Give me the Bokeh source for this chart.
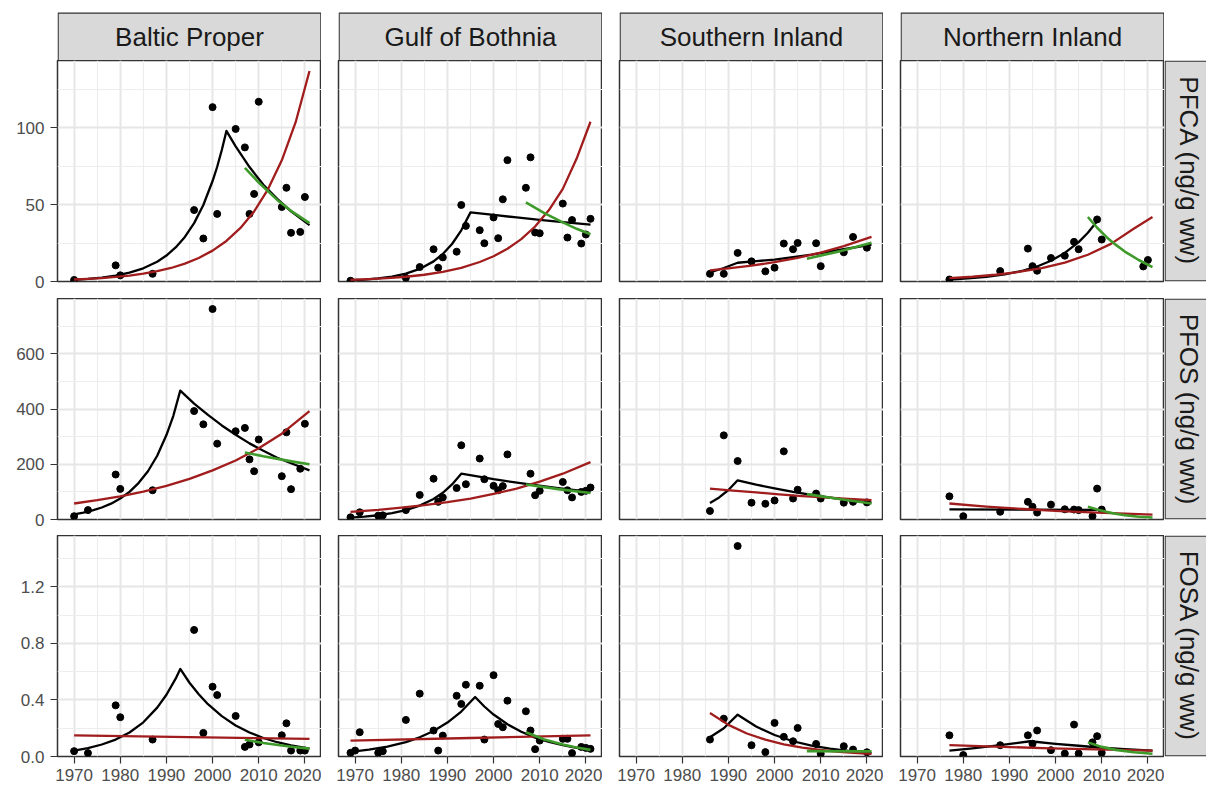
from math import pi
from bokeh.plotting import figure
from bokeh.layouts import gridplot
from bokeh.models import Range1d, FixedTicker, Grid, LinearAxis, PrintfTickFormatter
from bokeh.core.properties import value
from bokeh.embed import file_html
from bokeh.resources import INLINE

REGIONS = ["Baltic Proper", "Gulf of Bothnia", "Southern Inland", "Northern Inland"]
COMPOUNDS = ["PFCA (ng/g ww)", "PFOS (ng/g ww)", "FOSA (ng/g ww)"]
X_TICKS = [1970, 1980, 1990, 2000, 2010, 2020]
X_MINOR = [1975, 1985, 1995, 2005, 2015]
PFCA_TICKS = [0, 50, 100]
PFCA_MINOR = [25, 75, 125]
PFOS_TICKS = [0, 200, 400, 600]
PFOS_MINOR = [100, 300, 500, 700]
FOSA_TICKS = [0.0, 0.4, 0.8, 1.2]
FOSA_MINOR = [0.2, 0.6, 1.0, 1.4]

# ---------------- PFCA ----------------
bp_pfca_points = [(1970, 1.0), (1979, 10.5), (1980, 4.0), (1987, 5.0), (1996, 46.5), (1998, 28.0), (2000, 113.5),
                  (2001, 44.0), (2005, 99.3), (2007, 87.3), (2008, 44.0), (2009, 57.0), (2010, 117.0), (2015, 48.5),
                  (2016, 61.0), (2017, 31.7), (2019, 32.3), (2020, 55.0)]
bp_pfca_black = [(1970, 1.14), (1973, 1.7), (1976, 2.57), (1979, 3.83), (1982, 5.73), (1985, 8.6), (1988, 12.9),
                 (1990, 16.9), (1992, 22.2), (1994, 29.0), (1996, 38.0), (1998, 49.8), (2000, 65.4), (2001, 74.7),
                 (2002, 85.6), (2003, 98.0), (2005, 88.0), (2008, 74.5), (2011, 63.0), (2014, 53.8), (2017, 45.6),
                 (2021, 36.7)]
bp_pfca_red = [(1970, 1.3), (1973, 1.71), (1976, 2.25), (1979, 2.96), (1982, 3.89), (1985, 5.1), (1988, 6.7),
               (1991, 8.8), (1994, 11.6), (1997, 15.3), (2000, 20.1), (2003, 26.4), (2006, 34.7), (2009, 45.6),
               (2012, 60.0), (2015, 78.9), (2018, 103.7), (2021, 137.0)]
bp_pfca_green = [(2007, 74.0), (2010, 64.4), (2014, 53.1), (2017, 46.0), (2021, 38.0)]

gb_pfca_points = [(1969, 0.5), (1981, 2.4), (1984, 9.4), (1987, 21.0), (1988, 9.0), (1989, 15.7), (1992, 19.4),
                  (1993, 49.8), (1994, 36.2), (1997, 33.4), (1998, 24.9), (2000, 41.7), (2001, 28.2), (2002, 53.5),
                  (2003, 79.0), (2007, 61.0), (2008, 80.8), (2009, 31.9), (2010, 31.4), (2015, 50.7), (2016, 28.6),
                  (2017, 40.0), (2019, 24.7), (2020, 30.6), (2021, 40.8)]
gb_pfca_black = [(1969, 0.8), (1972, 1.27), (1975, 2.03), (1978, 3.23), (1981, 5.15), (1984, 8.2), (1987, 13.1),
                 (1989, 17.9), (1991, 24.4), (1993, 33.3), (1995, 45.0), (2000, 43.3), (2005, 41.7), (2010, 40.1),
                 (2015, 38.6), (2021, 37.0)]
gb_pfca_red = [(1969, 1.1), (1973, 1.56), (1977, 2.2), (1981, 3.1), (1985, 4.4), (1989, 6.3), (1993, 8.9),
               (1997, 12.7), (2000, 16.4), (2003, 21.3), (2006, 27.6), (2009, 35.8), (2012, 46.5), (2015, 60.3),
               (2018, 80.0), (2021, 104.0)]
gb_pfca_green = [(2007, 51.5), (2011, 44.5), (2015, 38.5), (2018, 34.3), (2021, 30.8)]

si_pfca_points = [(1986, 5.0), (1989, 5.0), (1992, 18.6), (1995, 13.1), (1998, 6.6), (2000, 9.0), (2002, 24.7),
                  (2004, 21.0), (2005, 25.1), (2009, 24.9), (2010, 10.0), (2015, 19.0), (2017, 29.0), (2020, 22.0)]
si_pfca_black = [(1986, 6.0), (1989, 8.8), (1992, 12.2), (1996, 13.2), (2000, 14.3), (2004, 15.8), (2008, 17.5),
                 (2014, 20.5), (2021, 24.0)]
si_pfca_red = [(1986, 7.2), (1990, 8.5), (1995, 10.3), (2000, 12.6), (2005, 15.4), (2010, 18.8), (2015, 23.0),
               (2021, 29.0)]
si_pfca_green = [(2007, 14.8), (2014, 19.6), (2021, 25.3)]

ni_pfca_points = [(1977, 1.3), (1988, 6.8), (1994, 21.4), (1995, 10.0), (1996, 7.0), (1999, 15.3), (2002, 16.8),
                  (2004, 25.8), (2005, 21.0), (2009, 40.4), (2010, 27.3), (2019, 9.8), (2020, 14.0)]
ni_pfca_black = [(1977, 1.3), (1981, 2.0), (1985, 3.0), (1989, 4.6), (1993, 7.1), (1996, 9.8), (1999, 13.5),
                 (2002, 18.6), (2005, 25.6), (2007, 31.7), (2009, 39.2)]
ni_pfca_red = [(1977, 2.2), (1982, 3.1), (1987, 4.4), (1992, 6.2), (1997, 8.7), (2002, 12.3), (2007, 17.4),
               (2012, 24.5), (2017, 34.5), (2021, 42.0)]
ni_pfca_green = [(2007, 42.0), (2009, 35.0), (2011, 29.0), (2013, 24.0), (2015, 19.5), (2018, 14.0), (2021, 9.4)]

# ---------------- PFOS ----------------
bp_pfos_points = [(1970, 12), (1973, 34), (1979, 163), (1980, 111), (1987, 106), (1996, 393), (1998, 345),
                  (2000, 763), (2001, 275), (2005, 320), (2007, 332), (2008, 218), (2009, 175), (2010, 290),
                  (2015, 157), (2016, 316), (2017, 110), (2019, 184), (2020, 347)]
bp_pfos_black = [(1970, 19), (1972, 25), (1974, 33), (1976, 43.5), (1978, 57.5), (1980, 76), (1982, 100),
                 (1984, 133), (1986, 175), (1988, 231), (1990, 306), (1991.5, 376), (1993, 467), (1996, 420),
                 (1999, 379), (2002, 341), (2005, 307), (2008, 276), (2011, 249), (2014, 224), (2017, 204),
                 (2021, 178)]
bp_pfos_red = [(1970, 58), (1975, 70), (1980, 84), (1985, 101), (1990, 122), (1995, 147), (2000, 178),
               (2005, 214), (2010, 258), (2015, 311), (2021, 393)]
bp_pfos_green = [(2007, 243), (2011, 229), (2015, 217), (2018, 208), (2021, 200)]

gb_pfos_points = [(1969, 8), (1971, 26), (1975, 14), (1976, 15), (1981, 34), (1984, 89), (1987, 148), (1988, 64),
                  (1989, 80), (1992, 114), (1993, 269), (1994, 128), (1997, 221), (1998, 146), (2000, 122),
                  (2001, 106), (2002, 121), (2003, 236), (2008, 166), (2009, 88), (2010, 104), (2015, 136),
                  (2016, 106), (2017, 80), (2019, 100), (2020, 104), (2021, 116)]
gb_pfos_black = [(1969, 7), (1972, 10.4), (1975, 15.4), (1978, 22.8), (1981, 33.8), (1984, 50.2), (1987, 74.4),
                 (1989, 96.7), (1991, 127), (1993, 166), (2000, 146), (2007, 129), (2014, 114), (2021, 100)]
gb_pfos_red = [(1969, 28), (1975, 35), (1980, 43), (1985, 52), (1990, 63), (1995, 76), (2000, 93), (2005, 112),
               (2010, 137), (2015, 166), (2021, 208)]
gb_pfos_green = [(2007, 127), (2014, 110), (2021, 96)]

si_pfos_points = [(1986, 31), (1989, 305), (1992, 212), (1995, 61), (1998, 57), (2000, 69), (2002, 247),
                  (2004, 76), (2005, 108), (2009, 94), (2010, 76), (2015, 61), (2017, 64), (2020, 62)]
si_pfos_black = [(1986, 60), (1988, 80), (1990, 107), (1992, 142), (1996, 126), (2000, 113), (2004, 100),
                 (2008, 89), (2012, 79), (2016, 70), (2021, 61)]
si_pfos_red = [(1986, 112), (1991, 105), (1996, 98), (2001, 91), (2006, 85), (2011, 80), (2016, 75), (2021, 70)]
si_pfos_green = [(2007, 92), (2014, 74), (2021, 58)]

ni_pfos_points = [(1977, 84), (1980, 12), (1988, 28), (1994, 64), (1995, 46), (1996, 25), (1999, 54), (2002, 37),
                  (2004, 36), (2005, 34), (2008, 12), (2009, 112), (2010, 36)]
ni_pfos_black = [(1977, 37), (1993, 36), (2009, 35)]
ni_pfos_red = [(1977, 58), (1985, 47), (1993, 38), (2001, 30.6), (2009, 24.7), (2015, 21), (2021, 18)]
ni_pfos_green = [(2007, 46), (2009, 36), (2011, 27.7), (2013, 21), (2015, 15.5), (2018, 10), (2021, 7)]

# ---------------- FOSA ----------------
bp_fosa_points = [(1970, 0.038), (1973, 0.024), (1979, 0.362), (1980, 0.278), (1987, 0.12), (1996, 0.896),
                  (1998, 0.167), (2000, 0.494), (2001, 0.435), (2005, 0.287), (2007, 0.068), (2008, 0.085),
                  (2010, 0.1), (2015, 0.15), (2016, 0.235), (2017, 0.042), (2019, 0.042), (2020, 0.042)]
bp_fosa_black = [(1970, 0.042), (1973, 0.060), (1976, 0.085), (1979, 0.12), (1982, 0.17), (1985, 0.242),
                 (1988, 0.346), (1990, 0.437), (1992, 0.551), (1993, 0.62), (1995, 0.522), (1997, 0.441),
                 (1999, 0.37), (2002, 0.286), (2005, 0.22), (2008, 0.17), (2011, 0.131), (2014, 0.101),
                 (2017, 0.079), (2021, 0.056)]
bp_fosa_red = [(1970, 0.15), (1995, 0.137), (2021, 0.125)]
bp_fosa_green = [(2007, 0.118), (2011, 0.095), (2015, 0.078), (2018, 0.066), (2021, 0.056)]

gb_fosa_points = [(1969, 0.026), (1970, 0.042), (1971, 0.172), (1975, 0.026), (1976, 0.038), (1981, 0.259),
                  (1984, 0.445), (1987, 0.184), (1988, 0.042), (1989, 0.148), (1992, 0.43), (1993, 0.372),
                  (1994, 0.508), (1997, 0.501), (1998, 0.12), (2000, 0.576), (2001, 0.23), (2002, 0.207),
                  (2003, 0.395), (2007, 0.32), (2008, 0.184), (2009, 0.052), (2010, 0.113), (2015, 0.125),
                  (2016, 0.125), (2017, 0.024), (2019, 0.068), (2020, 0.061), (2021, 0.054)]
gb_fosa_black = [(1969, 0.033), (1973, 0.048), (1977, 0.070), (1981, 0.102), (1984, 0.136), (1987, 0.18),
                 (1990, 0.24), (1993, 0.318), (1996, 0.421), (1998, 0.354), (2000, 0.297), (2003, 0.228),
                 (2006, 0.175), (2009, 0.134), (2012, 0.104), (2015, 0.08), (2018, 0.061), (2021, 0.047)]
gb_fosa_red = [(1969, 0.113), (1995, 0.131), (2021, 0.15)]
gb_fosa_green = [(2007, 0.172), (2011, 0.12), (2015, 0.085), (2018, 0.064), (2021, 0.047)]

si_fosa_points = [(1986, 0.12), (1989, 0.268), (1992, 1.49), (1995, 0.08), (1998, 0.031), (2000, 0.238),
                  (2002, 0.139), (2004, 0.108), (2005, 0.202), (2009, 0.089), (2010, 0.019), (2015, 0.073),
                  (2017, 0.049), (2020, 0.03)]
si_fosa_black = [(1986, 0.136), (1989, 0.2), (1992, 0.296), (1996, 0.212), (2000, 0.152), (2004, 0.108),
                 (2008, 0.077), (2012, 0.055), (2016, 0.039), (2021, 0.026)]
si_fosa_red = [(1986, 0.308), (1990, 0.224), (1994, 0.163), (1998, 0.119), (2002, 0.086), (2006, 0.063),
               (2010, 0.046), (2014, 0.033), (2018, 0.024), (2021, 0.019)]
si_fosa_green = [(2007, 0.038), (2021, 0.036)]

ni_fosa_points = [(1977, 0.15), (1980, 0.01), (1988, 0.08), (1994, 0.15), (1995, 0.09), (1996, 0.184),
                  (1999, 0.045), (2002, 0.021), (2004, 0.226), (2005, 0.021), (2008, 0.1), (2009, 0.144),
                  (2010, 0.026)]
ni_fosa_black = [(1977, 0.042), (1982, 0.058), (1988, 0.08), (1994.5, 0.108), (2000, 0.09), (2005, 0.076),
                 (2010, 0.062), (2015, 0.052), (2021, 0.042)]
ni_fosa_red = [(1977, 0.08), (1999, 0.058), (2021, 0.042)]
ni_fosa_green = [(2007, 0.1), (2010, 0.068), (2013, 0.047), (2017, 0.03), (2021, 0.019)]

# ---------------- assemble ----------------
PANELS = [
    [(bp_pfca_points, bp_pfca_black, bp_pfca_red, bp_pfca_green),
     (gb_pfca_points, gb_pfca_black, gb_pfca_red, gb_pfca_green),
     (si_pfca_points, si_pfca_black, si_pfca_red, si_pfca_green),
     (ni_pfca_points, ni_pfca_black, ni_pfca_red, ni_pfca_green)],
    [(bp_pfos_points, bp_pfos_black, bp_pfos_red, bp_pfos_green),
     (gb_pfos_points, gb_pfos_black, gb_pfos_red, gb_pfos_green),
     (si_pfos_points, si_pfos_black, si_pfos_red, si_pfos_green),
     (ni_pfos_points, ni_pfos_black, ni_pfos_red, ni_pfos_green)],
    [(bp_fosa_points, bp_fosa_black, bp_fosa_red, bp_fosa_green),
     (gb_fosa_points, gb_fosa_black, gb_fosa_red, gb_fosa_green),
     (si_fosa_points, si_fosa_black, si_fosa_red, si_fosa_green),
     (ni_fosa_points, ni_fosa_black, ni_fosa_red, ni_fosa_green)],
]
ROW_TICKS = [(PFCA_TICKS, PFCA_MINOR, "%d"), (PFOS_TICKS, PFOS_MINOR, "%d"), (FOSA_TICKS, FOSA_MINOR, "%.1f")]

# styles
FONT_NAME = "Liberation Sans"
FONT = value(FONT_NAME)
RED = "#A11D1D"
GREEN = "#3E9A2A"
BORDER = "#333333"
STRIP_FILL = "#D9D9D9"
GRID_MAJOR = "#E6E6E6"
GRID_MINOR = "#EDEDED"
FRAME_W, FRAME_H = 264, 221
LEFT_FIRST, GAP_X = 57, 17
ROW_BOTTOM = [17, 16, 31]
STRIP_H = 60
STRIP_TOP_GAP = 12
RIGHT_W = 42

all_years = [x for row in PANELS for panel in row for series in panel for x, _ in series]
x_lo, x_hi = min(all_years), max(all_years)
x_pad = 0.05 * (x_hi - x_lo)
X_RANGE = (x_lo - x_pad, x_hi + x_pad)
Y_MAX = [1.05 * max(v for panel in row for series in panel for _, v in series) for row in PANELS]


def base_fig(fw, fh, left, bottom, xr, yr):
    f = figure(frame_width=fw, frame_height=fh, min_border_left=left, min_border_right=0,
               min_border_top=0, min_border_bottom=bottom, x_range=Range1d(*xr), y_range=Range1d(*yr),
               x_axis_type=None, y_axis_type=None, toolbar_location=None, tools="",
               output_backend="svg")
    f.background_fill_color = "white"
    f.border_fill_color = "white"
    return f


def style_axis(ax):
    ax.axis_line_color = None
    ax.major_tick_line_color = BORDER
    ax.major_tick_line_width = 1.2
    ax.major_tick_out = 7
    ax.major_tick_in = 0
    ax.minor_tick_line_color = None
    ax.major_label_text_font = FONT_NAME
    ax.major_label_text_font_size = "17px"
    ax.major_label_text_color = "#4D4D4D"


rows = []
# top strips
strip_row = []
for c, name in enumerate(REGIONS):
    left = LEFT_FIRST if c == 0 else GAP_X
    s = base_fig(FRAME_W, STRIP_H, left, 0, (0, FRAME_W), (0, STRIP_H))
    s.outline_line_color = None
    box_top = STRIP_H - STRIP_TOP_GAP
    s.quad(left=0.6, right=FRAME_W - 0.6, bottom=-2, top=box_top - 0.6, fill_color=STRIP_FILL,
           line_color=BORDER, line_width=1.3)
    s.text(x=[FRAME_W / 2], y=[box_top / 2], text=[name], text_align="center",
           text_baseline="middle", text_font=FONT, text_font_size="26px", text_color="#1A1A1A")
    strip_row.append(s)
strip_row.append(None)
rows.append(strip_row)

xt = FixedTicker(ticks=X_TICKS, minor_ticks=X_MINOR)
for r in range(3):
    ticks, minor, fmt = ROW_TICKS[r]
    yt = FixedTicker(ticks=ticks, minor_ticks=minor)
    row_figs = []
    for c in range(4):
        left = LEFT_FIRST if c == 0 else GAP_X
        p = base_fig(FRAME_W, FRAME_H, left, ROW_BOTTOM[r], X_RANGE, (0, Y_MAX[r]))
        p.outline_line_color = BORDER
        p.outline_line_width = 1.5
        for dim, t in ((0, xt), (1, yt)):
            g = Grid(dimension=dim, ticker=t, grid_line_color=GRID_MAJOR, grid_line_width=2.0,
                     minor_grid_line_color=GRID_MINOR, minor_grid_line_width=1.2)
            p.add_layout(g, "center")
        if c == 0:
            ay = LinearAxis(ticker=yt, formatter=PrintfTickFormatter(format=fmt))
            style_axis(ay)
            ay.major_label_standoff = 6
            p.add_layout(ay, "left")
        if r == 2:
            ax = LinearAxis(ticker=xt, formatter=PrintfTickFormatter(format="%d"))
            style_axis(ax)
            ax.major_label_standoff = 5
            p.add_layout(ax, "below")
        pts, blk, red, grn = PANELS[r][c]
        p.scatter([x for x, _ in pts], [y for _, y in pts], size=7, color="black")
        p.line([x for x, _ in blk], [y for _, y in blk], color="black", line_width=2.3,
               line_join="round")
        p.line([x for x, _ in red], [y for _, y in red], color=RED, line_width=2.3, line_join="round")
        p.line([x for x, _ in grn], [y for _, y in grn], color=GREEN, line_width=2.6, line_join="round")
        row_figs.append(p)
    # right strip
    rs = base_fig(RIGHT_W, FRAME_H, 0, ROW_BOTTOM[r], (0, RIGHT_W), (0, FRAME_H))
    rs.outline_line_color = None
    rs.quad(left=0.6, right=RIGHT_W + 20, bottom=0.6, top=FRAME_H - 0.6, fill_color=STRIP_FILL,
            line_color=BORDER, line_width=1.3)
    rs.text(x=[24], y=[FRAME_H / 2], text=[COMPOUNDS[r]], angle=-pi / 2, text_align="center",
            text_baseline="middle", text_font=FONT, text_font_size="26px", text_color="#1A1A1A")
    row_figs.append(rs)
    rows.append(row_figs)

layout = gridplot(rows, toolbar_location=None)
layout.spacing = 0

open("out.html", "w").write(file_html(layout, INLINE))
